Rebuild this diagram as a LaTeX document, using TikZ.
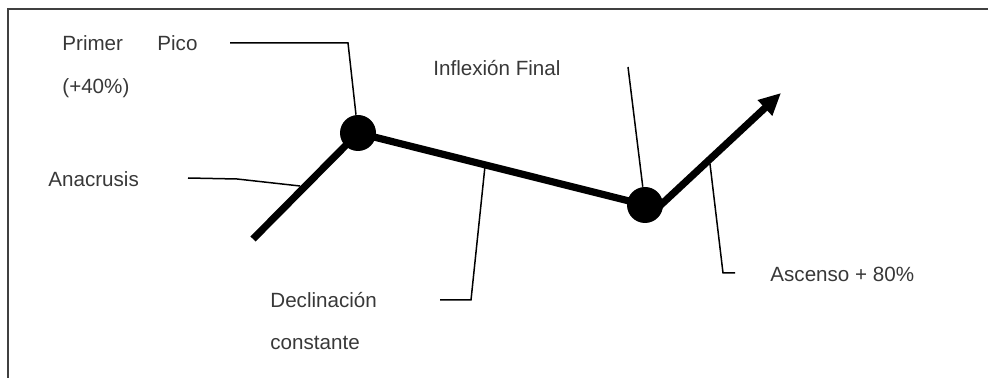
\documentclass[tikz,border=0pt]{standalone}
\usepackage{fontspec}
\setmainfont{Liberation Sans}
\usepackage{tikz}
\usetikzlibrary{arrows.meta}
\newcommand{\lblfont}{\fontsize{10.3}{12}\selectfont}

\begin{document}
\begin{tikzpicture}[
  x=0.5pt, y=-0.5pt,
  lbl/.style={anchor=base west, inner sep=0pt, font=\lblfont, text=black!78},
  lead/.style={line width=0.75pt},
  contour/.style={line width=3.6pt},
  dot/.style={circle, fill=black, minimum size=18pt, inner sep=0pt},
  frame/.style={line width=1.1pt, draw=black!75}
]
\useasboundingbox (0,0) rectangle (988,378);
\draw[frame] (8,378) -- (8,9) -- (988,9);

% intonation contour
\coordinate (start) at (253,239);
\coordinate (top) at (358,133);
\coordinate (low) at (645,205);
\coordinate (rise) at (650,215);
\coordinate (tip) at (781,93);
\draw[contour] (start) -- (top) -- (low);
\draw[contour, -{Triangle[length=11pt,width=10pt]}] (rise) -- (tip);
\node[dot] (peak) at (top) {};
\node[dot] (infl) at (low) {};

% labels
\node[lbl] (pico) at (62,51) {Primer\hspace{17.2pt}Pico};
\node[lbl] (pct40) at (62,94) {(+40\%)};
\node[lbl] (anac) at (48,187) {Anacrusis};
\node[lbl] (inflx) at (433,76) {Inflexión Final};
\node[lbl] (decl) at (270,308) {Declinación};
\node[lbl] (const) at (270,350) {constante};
\node[lbl] (asc) at (770,282) {Ascenso + 80\%};

% leader lines
\coordinate (picoA) at (230,43);
\coordinate (picoB) at (348,43);
\coordinate (anacA) at (188,178);
\coordinate (anacB) at (237,179);
\coordinate (anacC) at (300,186);
\coordinate (inflA) at (628,67);
\coordinate (declA) at (440,300);
\coordinate (declB) at (471,300);
\coordinate (declC) at (485,166);
\coordinate (ascA) at (735,273);
\coordinate (ascB) at (723,273);
\coordinate (ascC) at (710,164);

\draw[lead] (picoA) -- (picoB) -- (peak);
\draw[lead] (anacA) -- (anacB) -- (anacC);
\draw[lead] (inflA) -- (infl);
\draw[lead] (declA) -- (declB) -- (declC);
\draw[lead] (ascA) -- (ascB) -- (ascC);
\end{tikzpicture}
\end{document}
